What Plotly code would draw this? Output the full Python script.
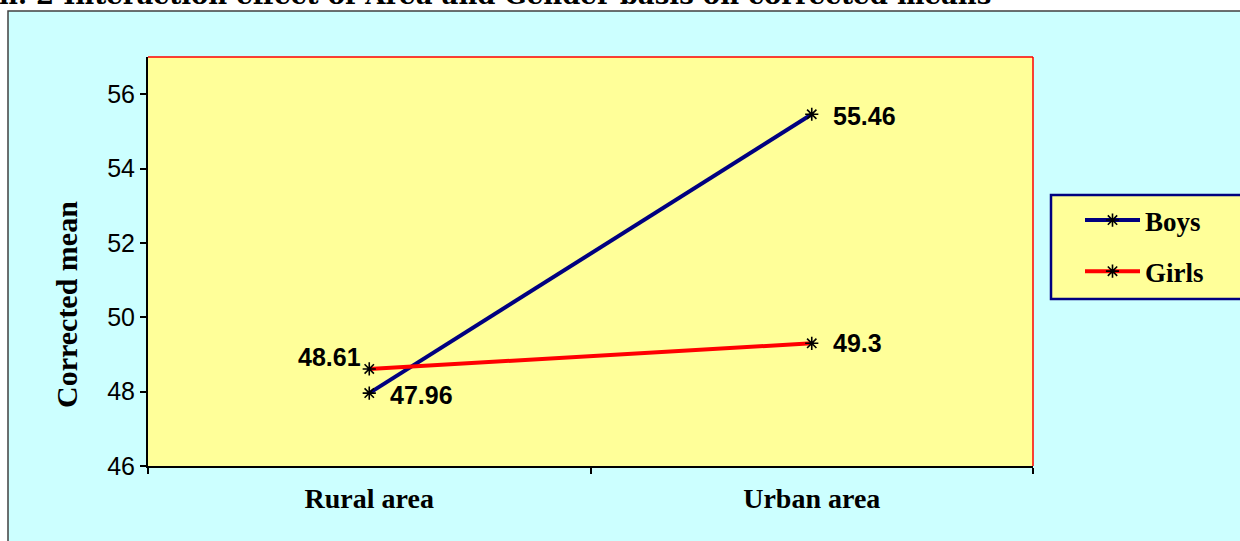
import plotly.graph_objects as go

# ---- data ----
categories = ["Rural area", "Urban area"]
boys = [47.96, 55.46]
girls = [48.61, 49.3]
boys_labels = ["47.96", "55.46"]
girls_labels = ["48.61", "49.3"]
y_ticks = [46, 48, 50, 52, 54, 56]
title_text = "h. 2 Interaction effect of Area and Gender basis on corrected means"
y_title = "Corrected mean"

# ---- layout geometry (pixels) ----
W, H = 1240, 541
L, R, T, B = 148, 207, 57, 75
pw = W - L - R
ph = H - T - B


def px_x(px):
    return (px - L) / pw


def px_y(py):
    return (H - B - py) / ph


SERIF = "Times New Roman, Liberation Serif, serif"
SANS = "Arial, Liberation Sans, sans-serif"
marker_style = dict(symbol="asterisk-open", size=11, color="black",
                    line=dict(color="black", width=1.6))

fig = go.Figure()
fig.add_trace(go.Scatter(
    x=categories, y=boys, name="Boys", mode="lines+markers",
    line=dict(color="#000080", width=4), marker=marker_style,
    legendgroup="boys", cliponaxis=False))
fig.add_trace(go.Scatter(
    x=categories, y=girls, name="Girls", mode="lines+markers",
    line=dict(color="#FF0000", width=4), marker=marker_style,
    legendgroup="girls", cliponaxis=False))

annotations = []
label_font = dict(family=SANS, size=25, color="black", weight="bold")
# boys labels: right of points
for c, v, t in zip(categories, boys, boys_labels):
    annotations.append(dict(x=c, y=v, text=t, showarrow=False, xanchor="left",
                            yanchor="middle", xshift=19, yshift=-2, font=label_font))
# girls labels
for i, (c, v, t) in enumerate(zip(categories, girls, girls_labels)):
    if i == 0:
        annotations.append(dict(x=c, y=v, text=t, showarrow=False, xanchor="right",
                                yanchor="middle", xshift=-6, yshift=12, font=label_font))
    else:
        annotations.append(dict(x=c, y=v, text=t, showarrow=False, xanchor="left",
                                yanchor="middle", xshift=19, yshift=0, font=label_font))

# chart title (cut at top edge, as in the reference)
annotations.append(dict(
    xref="paper", yref="paper", x=px_x(-3), y=px_y(12), xanchor="left", yanchor="bottom",
    text=title_text, showarrow=False,
    font=dict(family="DejaVu Serif, serif", size=26, color="black", weight="bold")))

# y-axis title
annotations.append(dict(
    xref="paper", yref="paper", x=px_x(66), y=px_y(305), xanchor="center", yanchor="middle",
    text=y_title, textangle=-90, showarrow=False,
    font=dict(family=SERIF, size=30, color="black", weight="bold")))

shapes = [
    # outer chart area
    dict(type="rect", xref="paper", yref="paper", layer="below",
         x0=px_x(8), x1=px_x(W + 60), y0=px_y(H + 60), y1=px_y(11),
         fillcolor="#CCFFFF", line=dict(color="#404040", width=1.5)),
    # plot area
    dict(type="rect", xref="paper", yref="paper", layer="below",
         x0=0, x1=1, y0=0, y1=1, fillcolor="#FFFF99", line=dict(width=0)),
    # red border top and right
    dict(type="line", xref="paper", yref="paper", layer="below",
         x0=0, x1=1, y0=1, y1=1, line=dict(color="#FF0000", width=1.5)),
    dict(type="line", xref="paper", yref="paper", layer="below",
         x0=1, x1=1, y0=0, y1=1, line=dict(color="#FF0000", width=1.5)),
    # legend box
    dict(type="rect", xref="paper", yref="paper", layer="below",
         x0=px_x(1051), x1=px_x(W + 60), y0=px_y(299), y1=px_y(195),
         fillcolor="#FFFF99", line=dict(color="#000080", width=2.5)),
]

fig.update_layout(
    width=W, height=H,
    margin=dict(l=L, r=R, t=T, b=B, autoexpand=False),
    paper_bgcolor="white", plot_bgcolor="#FFFF99",
    showlegend=True,
    legend=dict(x=px_x(1080), y=px_y(196), xanchor="left", yanchor="top",
                bgcolor="rgba(0,0,0,0)", borderwidth=0, tracegroupgap=13,
                font=dict(family=SERIF, size=27, color="black", weight="bold"),
                itemwidth=55),
    annotations=annotations,
    shapes=shapes,
    xaxis=dict(type="category", range=[-0.5, 1.5], tickson="boundaries",
               ticks="outside", ticklen=6, tickwidth=1.5, tickcolor="black",
               showline=True, linecolor="black", linewidth=2, showgrid=False,
               zeroline=False, ticklabelstandoff=6,
               tickfont=dict(family=SERIF, size=28, color="black", weight="bold")),
    yaxis=dict(range=[46, 57], tickvals=y_ticks, ticks="outside", ticklen=6,
               tickwidth=1.5, tickcolor="black", showline=True, linecolor="black",
               linewidth=2, showgrid=False, zeroline=False,
               tickfont=dict(family=SANS, size=25, color="black")),
)

fig.write_html("out.html")
